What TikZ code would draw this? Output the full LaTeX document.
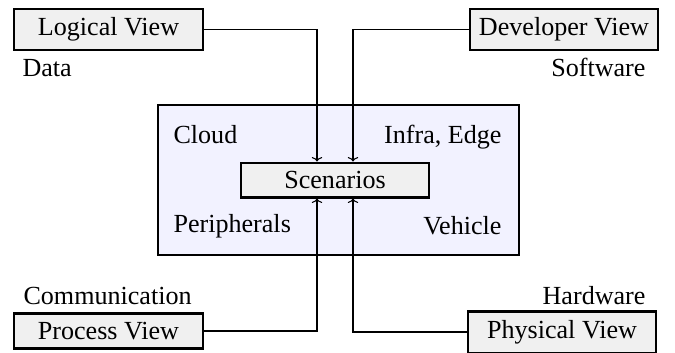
\documentclass[tikz,border=0pt]{standalone}
\usepackage{fontspec}
\setmainfont{Liberation Serif}
\usetikzlibrary{arrows.meta}
\begin{document}
\begin{tikzpicture}[x=0.3833pt,y=-0.3833pt,
  viewbox/.style={draw,thick,fill=black!6,minimum width=72.4pt,inner sep=3.33pt},
  bigbox/.style={draw,thick,fill=blue!5,minimum width=138.3pt,minimum height=57.5pt,inner sep=0pt},
  lbl/.style={inner sep=0pt},
  conn/.style={-{To[length=1.7pt,width=4pt]}}]
\useasboundingbox (0,0) rectangle (675,352);
\node[bigbox] (domain) at (338.5,180) {};
\node[viewbox] (scen) at (335,180) {Scenarios};
\node[viewbox] (logical) at (108.5,29.5) {Logical View};
\node[viewbox] (developer) at (564,29.5) {Developer View};
\node[viewbox] (process) at (108.5,331) {Process View};
\node[viewbox] (physical) at (562,332) {Physical View};
\node[lbl,anchor=base west] (data) at (22,76) {Data};
\node[lbl,anchor=base east] (software) at (646,76) {Software};
\node[lbl,anchor=base west] (comm) at (23,304) {Communication};
\node[lbl,anchor=base east] (hardware) at (646,304) {Hardware};
\node[lbl,anchor=base west] (cloud) at (173,143) {Cloud};
\node[lbl,anchor=base east] (infra) at (502,143) {Infra, Edge};
\node[lbl,anchor=base west] (periph) at (173,232) {Peripherals};
\node[lbl,anchor=base east] (vehicle) at (502,234) {Vehicle};
\draw[conn] (logical.east) -| ([xshift=-6.9pt]scen.north);
\draw[conn] (developer.west) -| ([xshift=6.9pt]scen.north);
\draw[conn] (process.east) -| ([xshift=-6.9pt]scen.south);
\draw[conn] (physical.west) -| ([xshift=6.9pt]scen.south);
\end{tikzpicture}
\end{document}
